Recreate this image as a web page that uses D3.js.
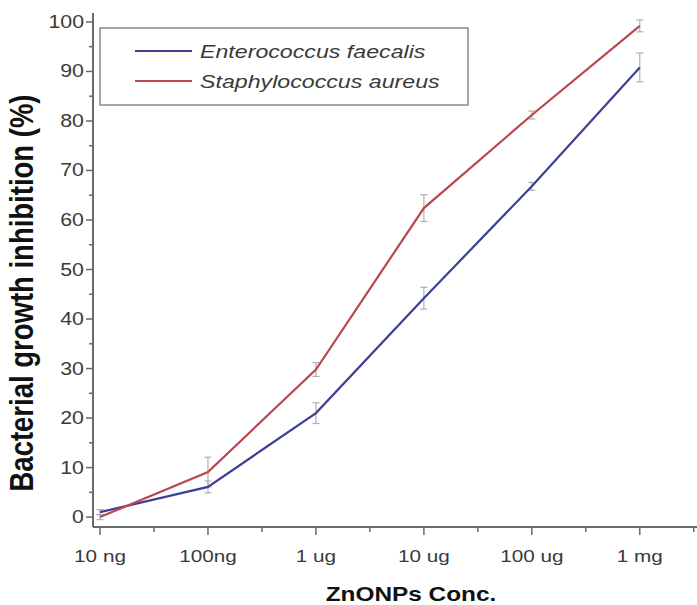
<!DOCTYPE html>
<html>
<head>
<meta charset="utf-8">
<script src="https://cdn.jsdelivr.net/npm/d3@7.9.0/dist/d3.min.js"></script>
<style>
  body { margin: 0; background: #fff; }
  svg text { font-family: Arial, "Liberation Sans", sans-serif; }
</style>
</head>
<body>
<svg id="chart" width="697" height="605"></svg>
<script>
// data
const concLabels = ['10 ng', '100ng', '1 ug', '10 ug', '100 ug', '1 mg'];
const faecalis = [1.0, 6.1, 21.0, 44.2, 66.8, 90.8];
const faecalisErr = [0.5, 1.2, 2.1, 2.2, 0.8, 2.9];
const aureus = [0.0, 9.1, 29.8, 62.4, 81.2, 99.2];
const aureusErr = [0.5, 3.0, 1.4, 2.7, 0.8, 1.2];
const yTicks = [0, 10, 20, 30, 40, 50, 60, 70, 80, 90, 100];

const series = [
  { name: 'Enterococcus faecalis', values: faecalis, err: faecalisErr, color: '#3b3f96' },
  { name: 'Staphylococcus aureus', values: aureus, err: aureusErr, color: '#b9474c' }
];

const svg = d3.select('#chart');
const sx = 1.22; // the original is stretched sideways a bit

let x = d3.scaleLinear().domain([-0.065, 5.53]).range([93, 697]);
let y = d3.scaleLinear().domain([-2, 101.8]).range([527, 13]);

const axisColor = '#6a6a6a';
const textColor = '#3a3a3a';

// error bars first so the lines sit on top
series.forEach((s) => {
  s.values.forEach((v, i) => {
    let g = svg.append('g').attr('stroke', '#b0b0b0').attr('stroke-width', 1.2);
    let cx = x(i);
    g.append('line').attr('x1', cx).attr('x2', cx).attr('y1', y(v - s.err[i])).attr('y2', y(v + s.err[i]));
    g.append('line').attr('x1', cx - 3.5).attr('x2', cx + 3.5).attr('y1', y(v - s.err[i])).attr('y2', y(v - s.err[i]));
    g.append('line').attr('x1', cx - 3.5).attr('x2', cx + 3.5).attr('y1', y(v + s.err[i])).attr('y2', y(v + s.err[i]));
  });
});

let line = d3.line().x((d, i) => x(i)).y((d) => y(d));
series.forEach((s) => {
  svg.append('path')
    .attr('d', line(s.values))
    .attr('fill', 'none')
    .attr('stroke', s.color)
    .attr('stroke-width', 2.2);
});

// y axis
svg.append('line')
  .attr('x1', x.range()[0]).attr('x2', x.range()[0])
  .attr('y1', y.range()[0]).attr('y2', y.range()[1])
  .attr('stroke', axisColor).attr('stroke-width', 2);

d3.range(0, 101, 5).forEach((t) => {
  let major = t % 10 === 0;
  svg.append('line')
    .attr('x1', x.range()[0]).attr('x2', x.range()[0] - (major ? 7 : 4))
    .attr('y1', y(t)).attr('y2', y(t))
    .attr('stroke', axisColor).attr('stroke-width', 1.5);
});

yTicks.forEach((t) => {
  svg.append('text')
    .attr('transform', `translate(84,${y(t) + 6}) scale(${sx},1)`)
    .attr('text-anchor', 'end')
    .attr('font-size', 17.5)
    .attr('fill', textColor)
    .text(t);
});

// x axis
svg.append('line')
  .attr('x1', x.range()[0]).attr('x2', x.range()[1])
  .attr('y1', y.range()[0]).attr('y2', y.range()[0])
  .attr('stroke', axisColor).attr('stroke-width', 2);

d3.range(0, 5.6, 0.5).forEach((t) => {
  let major = Number.isInteger(t);
  svg.append('line')
    .attr('x1', x(t)).attr('x2', x(t))
    .attr('y1', y.range()[0]).attr('y2', y.range()[0] + (major ? 8 : 5))
    .attr('stroke', axisColor).attr('stroke-width', 1.5);
});

concLabels.forEach((lab, i) => {
  svg.append('text')
    .attr('transform', `translate(${x(i)},562) scale(${sx},1)`)
    .attr('text-anchor', 'middle')
    .attr('font-size', 17)
    .attr('fill', textColor)
    .text(lab);
});

// axis titles
svg.append('text')
  .attr('transform', `translate(411,601) scale(${sx},1)`)
  .attr('text-anchor', 'middle')
  .attr('font-size', 20)
  .attr('font-weight', 'bold')
  .attr('fill', '#111')
  .text('ZnONPs Conc.');

svg.append('text')
  .attr('transform', `translate(33,293) scale(${sx},1) rotate(-90)`)
  .attr('text-anchor', 'middle')
  .attr('font-size', 27.5)
  .attr('font-weight', 'bold')
  .attr('fill', '#111')
  .text('Bacterial growth inhibition (%)');

// legend
svg.append('rect')
  .attr('x', 100).attr('y', 28).attr('width', 368).attr('height', 77)
  .attr('fill', '#fff')
  .attr('stroke', '#8a8a8a').attr('stroke-width', 1.5);

series.forEach((s, i) => {
  let ly = 51 + i * 30;
  svg.append('line')
    .attr('x1', 135).attr('x2', 192)
    .attr('y1', ly).attr('y2', ly)
    .attr('stroke', s.color).attr('stroke-width', 2.2);
  svg.append('text')
    .attr('transform', `translate(200,${ly + 7}) scale(1.22,1)`)
    .attr('font-size', 19)
    .attr('font-style', 'italic')
    .attr('fill', textColor)
    .text(s.name);
});
</script>
</body>
</html>
